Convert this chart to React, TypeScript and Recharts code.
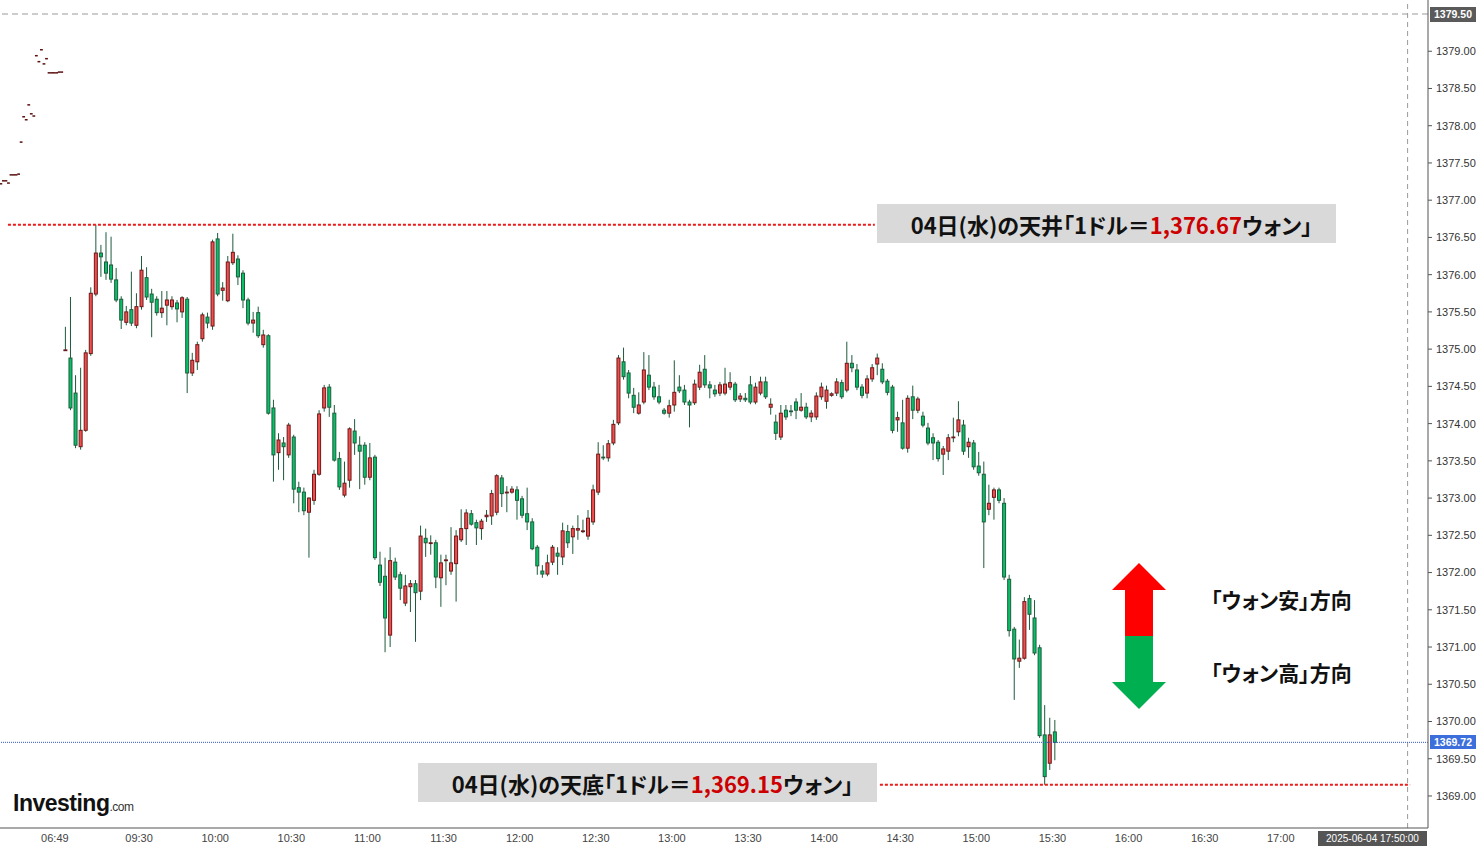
import React from 'react';
import { ComposedChart, Bar, Scatter, XAxis, YAxis, ReferenceLine } from 'recharts';

// 2分足（09:00〜15:32）
const opens = [
  1374.99, 1374.88, 1374.41, 1373.69, 1373.91, 1374.94, 1375.74, 1376.29, 1376.17, 1376.13,
  1375.93, 1375.67, 1375.36, 1375.53, 1375.32, 1375.57, 1375.96, 1375.74, 1375.67, 1375.49,
  1375.59, 1375.57, 1375.62, 1375.50, 1375.67, 1374.68, 1374.83, 1375.14, 1375.43, 1375.31,
  1376.48, 1375.79, 1375.65, 1376.16, 1376.21, 1376.02, 1375.66, 1375.35, 1375.49, 1375.06,
  1375.18, 1374.21, 1373.61, 1373.74, 1373.58, 1373.82, 1373.14, 1373.08, 1372.81, 1372.97,
  1373.32, 1374.21, 1374.49, 1374.14, 1373.53, 1373.04, 1373.24, 1373.90, 1373.71, 1373.71,
  1373.28, 1373.55, 1372.10, 1371.95, 1371.16, 1372.14, 1371.97, 1371.59, 1371.81, 1371.85,
  1371.75, 1372.46, 1372.40, 1372.40, 1371.93, 1372.16, 1372.02, 1372.12, 1372.44, 1372.59,
  1372.79, 1372.67, 1372.59, 1372.75, 1372.76, 1372.81, 1373.27, 1373.08, 1373.08, 1373.11,
  1372.99, 1372.79, 1372.68, 1372.34, 1372.02, 1371.98, 1372.14, 1372.26, 1372.21, 1372.55,
  1372.48, 1372.57, 1372.56, 1372.49, 1372.68, 1373.08, 1373.55, 1373.54, 1373.74, 1374.01,
  1374.83, 1374.68, 1374.38, 1374.14, 1374.29, 1374.65, 1374.49, 1374.36, 1374.18, 1374.14,
  1374.25, 1374.49, 1374.45, 1374.29, 1374.28, 1374.49, 1374.73, 1374.52, 1374.45, 1374.41,
  1374.41, 1374.49, 1374.53, 1374.33, 1374.34, 1374.52, 1374.29, 1374.41, 1374.56, 1374.22,
  1374.02, 1373.82, 1374.18, 1374.17, 1374.29, 1374.18, 1374.22, 1374.09, 1374.09, 1374.36,
  1374.30, 1374.38, 1374.41, 1374.55, 1374.45, 1374.81, 1374.72, 1374.49, 1374.41, 1374.60,
  1374.80, 1374.73, 1374.57, 1374.49, 1374.05, 1374.01, 1373.67, 1374.36, 1374.18, 1374.10,
  1373.94, 1373.81, 1373.75, 1373.59, 1373.63, 1373.81, 1373.89, 1373.98, 1373.69, 1373.74,
  1373.43, 1373.32, 1372.85, 1373.01, 1373.11, 1372.93, 1371.91, 1371.24, 1370.81, 1370.85,
  1371.65, 1371.39, 1370.99, 1369.82, 1369.44, 1369.86,
];

const highs = [
  1375.30, 1375.70, 1374.65, 1374.75, 1374.99, 1375.83, 1376.67, 1376.40, 1376.57, 1376.51,
  1376.09, 1375.71, 1375.58, 1376.04, 1375.75, 1376.25, 1376.10, 1375.81, 1375.71, 1375.78,
  1375.78, 1375.71, 1375.66, 1375.71, 1375.70, 1374.95, 1375.10, 1375.49, 1375.49, 1376.47,
  1376.56, 1375.90, 1376.25, 1376.55, 1376.26, 1376.06, 1375.69, 1375.50, 1375.57, 1375.26,
  1375.20, 1374.32, 1373.87, 1373.82, 1374.01, 1373.85, 1373.22, 1373.14, 1373.01, 1373.38,
  1374.18, 1374.52, 1374.53, 1374.25, 1373.62, 1373.49, 1373.95, 1374.06, 1373.83, 1373.75,
  1373.74, 1373.58, 1372.28, 1372.20, 1372.34, 1372.20, 1372.01, 1371.97, 1371.90, 1371.90,
  1372.63, 1372.59, 1372.50, 1372.44, 1372.24, 1372.24, 1372.61, 1372.57, 1372.85, 1372.85,
  1372.84, 1372.71, 1372.72, 1372.84, 1373.11, 1373.32, 1373.31, 1373.16, 1373.16, 1373.16,
  1373.03, 1373.14, 1372.73, 1372.37, 1372.10, 1372.24, 1372.37, 1372.34, 1372.67, 1372.64,
  1372.63, 1372.77, 1372.71, 1372.84, 1373.18, 1373.75, 1373.71, 1373.78, 1374.05, 1374.92,
  1375.02, 1374.72, 1374.48, 1374.42, 1374.96, 1374.92, 1374.56, 1374.52, 1374.21, 1374.32,
  1374.85, 1374.65, 1374.52, 1374.32, 1374.59, 1374.79, 1374.92, 1374.57, 1374.52, 1374.56,
  1374.75, 1374.69, 1374.56, 1374.41, 1374.41, 1374.64, 1374.55, 1374.63, 1374.63, 1374.34,
  1374.12, 1374.25, 1374.25, 1374.25, 1374.34, 1374.41, 1374.28, 1374.18, 1374.42, 1374.55,
  1374.51, 1374.42, 1374.61, 1374.59, 1375.10, 1374.92, 1374.80, 1374.53, 1374.65, 1374.80,
  1374.94, 1374.81, 1374.60, 1374.52, 1374.16, 1374.32, 1374.38, 1374.51, 1374.36, 1374.16,
  1374.01, 1373.87, 1373.78, 1373.70, 1373.86, 1374.08, 1374.30, 1374.05, 1373.81, 1373.78,
  1373.62, 1373.49, 1373.18, 1373.14, 1373.14, 1373.00, 1371.97, 1371.27, 1371.10, 1371.67,
  1371.70, 1371.63, 1371.03, 1370.22, 1370.05, 1370.02,
];

const lows = [
  1374.99, 1374.18, 1373.67, 1373.65, 1373.89, 1374.91, 1375.71, 1375.97, 1375.93, 1375.89,
  1375.63, 1375.27, 1375.32, 1375.31, 1375.28, 1375.53, 1375.66, 1375.16, 1375.45, 1375.42,
  1375.32, 1375.53, 1375.36, 1375.42, 1374.41, 1374.64, 1374.72, 1375.10, 1375.28, 1375.26,
  1375.71, 1375.65, 1375.63, 1376.13, 1375.86, 1375.55, 1375.32, 1375.22, 1375.15, 1375.02,
  1374.12, 1373.22, 1373.38, 1373.24, 1373.54, 1372.93, 1372.81, 1372.77, 1372.20, 1372.91,
  1373.30, 1374.16, 1374.09, 1373.49, 1373.11, 1373.01, 1373.14, 1373.58, 1373.12, 1373.18,
  1373.24, 1372.17, 1371.82, 1370.93, 1371.00, 1371.90, 1371.63, 1371.55, 1371.47, 1371.07,
  1371.63, 1372.21, 1372.24, 1371.79, 1371.54, 1371.83, 1371.97, 1371.61, 1372.41, 1372.37,
  1372.63, 1372.37, 1372.44, 1372.68, 1372.64, 1372.77, 1372.88, 1372.81, 1373.06, 1372.71,
  1372.73, 1372.57, 1372.30, 1371.97, 1371.93, 1371.95, 1372.10, 1371.97, 1372.10, 1372.33,
  1372.25, 1372.44, 1372.53, 1372.44, 1372.64, 1373.04, 1373.51, 1373.49, 1373.71, 1373.98,
  1374.59, 1374.34, 1374.14, 1374.12, 1374.26, 1374.45, 1374.32, 1374.26, 1374.12, 1374.08,
  1374.16, 1374.41, 1374.25, 1373.95, 1374.25, 1374.45, 1374.48, 1374.34, 1374.36, 1374.37,
  1374.38, 1374.45, 1374.29, 1374.29, 1374.29, 1374.26, 1374.26, 1374.38, 1374.33, 1374.12,
  1373.78, 1373.78, 1374.05, 1374.10, 1374.06, 1374.16, 1374.06, 1374.02, 1374.05, 1374.32,
  1374.20, 1374.36, 1374.37, 1374.33, 1374.42, 1374.69, 1374.45, 1374.34, 1374.34, 1374.56,
  1374.65, 1374.53, 1374.38, 1373.87, 1373.89, 1373.65, 1373.61, 1374.06, 1374.14, 1373.95,
  1373.71, 1373.51, 1373.49, 1373.31, 1373.51, 1373.75, 1373.83, 1373.58, 1373.54, 1373.38,
  1373.30, 1372.06, 1372.77, 1372.71, 1372.93, 1371.90, 1371.14, 1370.29, 1370.72, 1370.83,
  1371.23, 1370.89, 1369.78, 1369.15, 1369.35, 1369.48,
];

const closes = [
  1374.99, 1374.21, 1373.71, 1373.91, 1374.95, 1375.75, 1376.29, 1376.24, 1376.02, 1375.94,
  1375.66, 1375.39, 1375.50, 1375.35, 1375.57, 1376.06, 1375.70, 1375.63, 1375.49, 1375.55,
  1375.66, 1375.66, 1375.54, 1375.69, 1374.68, 1374.85, 1375.06, 1375.46, 1375.35, 1376.44,
  1375.74, 1375.82, 1376.17, 1376.30, 1375.97, 1375.66, 1375.35, 1375.39, 1375.18, 1375.19,
  1374.14, 1373.58, 1373.78, 1373.69, 1373.98, 1373.12, 1373.08, 1372.83, 1373.00, 1373.32,
  1374.13, 1374.48, 1374.22, 1373.51, 1373.15, 1373.20, 1373.93, 1373.74, 1373.63, 1373.28,
  1373.54, 1372.20, 1371.87, 1371.39, 1372.16, 1371.94, 1371.79, 1371.82, 1371.85, 1371.73,
  1372.49, 1372.40, 1372.40, 1371.94, 1372.13, 1372.17, 1372.13, 1372.49, 1372.59, 1372.80,
  1372.65, 1372.60, 1372.69, 1372.77, 1373.06, 1373.30, 1373.06, 1373.08, 1373.12, 1372.97,
  1372.77, 1372.68, 1372.32, 1372.09, 1371.98, 1372.13, 1372.34, 1372.22, 1372.56, 1372.40,
  1372.59, 1372.59, 1372.56, 1372.73, 1373.11, 1373.59, 1373.54, 1373.73, 1373.99, 1374.88,
  1374.63, 1374.41, 1374.22, 1374.25, 1374.72, 1374.49, 1374.36, 1374.29, 1374.14, 1374.24,
  1374.42, 1374.44, 1374.29, 1374.25, 1374.53, 1374.69, 1374.52, 1374.48, 1374.40, 1374.52,
  1374.53, 1374.55, 1374.32, 1374.37, 1374.32, 1374.29, 1374.49, 1374.56, 1374.36, 1374.26,
  1373.87, 1374.14, 1374.09, 1374.16, 1374.18, 1374.22, 1374.09, 1374.14, 1374.37, 1374.49,
  1374.45, 1374.40, 1374.56, 1374.36, 1374.81, 1374.75, 1374.49, 1374.38, 1374.60, 1374.75,
  1374.88, 1374.56, 1374.42, 1373.91, 1374.08, 1373.67, 1374.34, 1374.18, 1374.33, 1373.98,
  1373.74, 1373.74, 1373.53, 1373.66, 1373.81, 1373.82, 1374.05, 1373.63, 1373.75, 1373.42,
  1373.34, 1372.68, 1372.93, 1373.11, 1372.97, 1371.94, 1371.22, 1370.84, 1370.85, 1371.61,
  1371.44, 1370.92, 1369.81, 1369.26, 1369.82, 1369.72,
];

// 早朝の約定（1分足、値幅なし）
const preCloses = [
  1377.22, 1377.26, 1377.26, 1377.23, 1377.34, 1377.34, 1377.34, 1377.35, 1377.78, 1378.12,
  1378.08, 1378.28, 1378.16, 1378.13, 1378.94, 1378.86, 1379.02, 1378.83, 1378.90, 1378.71,
  1378.71, 1378.71, 1378.71, 1378.72, 1378.72,
];

const timeTicks = [-3.2, 30, 60, 90, 120, 150, 180, 210, 240, 270, 300, 330, 360, 390, 420, 450, 480];
const timeLabels = ['06:49', '09:30', '10:00', '10:30', '11:00', '11:30', '12:00', '12:30', '13:00', '13:30', '14:00', '14:30', '15:00', '15:30', '16:00', '16:30', '17:00'];
const priceTicks = [
  1369, 1369.5, 1370, 1370.5, 1371, 1371.5, 1372, 1372.5, 1373, 1373.5, 1374,
  1374.5, 1375, 1375.5, 1376, 1376.5, 1377, 1377.5, 1378, 1378.5, 1379,
];

const dayHigh = 1376.67;
const dayLow = 1369.15;
const lastPrice = 1369.72;
const topPrice = 1379.5;
const nowSlot = 530; // 17:50

const candles = opens.map((o, i) => ({
  t: 2 * i + 1,
  open: o,
  high: highs[i],
  low: lows[i],
  close: closes[i],
}));

const preTrades = preCloses.map((c, i) => ({ t: i - 24.5, close: c }));

const UP_FILL = '#f34e4e';
const UP_EDGE = '#6b1818';
const DN_FILL = '#07c168';
const DN_EDGE = '#1e5b3d';
const WICK = '#1e5b3d';

const CandleShape = (props: any) => {
  const { x, y, width, height, payload } = props;
  const { open, close, high, low } = payload;
  const cx = x + width / 2;
  const ppu = high > low ? height / (high - low) : 0;
  const top = y + (high - Math.max(open, close)) * ppu;
  const bot = y + (high - Math.min(open, close)) * ppu;
  const up = close >= open;
  return (
    <g>
      <line x1={cx} x2={cx} y1={y} y2={y + height} stroke={WICK} strokeWidth={1} />
      <rect
        x={cx - 1.5}
        y={top}
        width={3}
        height={Math.max(bot - top, 0.8)}
        fill={up ? UP_FILL : DN_FILL}
        stroke={up ? UP_EDGE : DN_EDGE}
        strokeWidth={1}
      />
    </g>
  );
};

const DashShape = (props: any) => {
  const { cx, cy } = props;
  return <rect x={cx - 1.4} y={cy - 0.75} width={2.8} height={1.5} fill="#5c1010" />;
};

const labelFor = (v: number) => {
  const i = timeTicks.indexOf(v);
  return i >= 0 ? timeLabels[i] : '';
};

const jp = '"Noto Sans CJK JP", "Noto Sans", sans-serif';

const NoteBox = ({ left, top, kind, value }: { left: number; top: number; kind: string; value: string }) => (
  <div
    style={{
      position: 'absolute',
      left,
      top,
      width: 459,
      height: 39,
      background: '#d9d9d9',
      display: 'flex',
      alignItems: 'center',
      justifyContent: 'center',
      fontFamily: jp,
      fontWeight: 700,
      fontSize: 22,
      fontFeatureSettings: '"palt"',
      color: '#111',
      whiteSpace: 'nowrap',
    }}
  >
    <span style={{ marginLeft: 10 }}>
      04日(水)の{kind}「1ドル＝<span style={{ color: '#cc0000' }}>{value}</span>ウォン」
    </span>
  </div>
);

const dirStyle: React.CSSProperties = {
  position: 'absolute',
  left: 1211,
  fontFamily: jp,
  fontWeight: 700,
  fontSize: 21,
  fontFeatureSettings: '"palt"',
  color: '#111',
  whiteSpace: 'nowrap',
  lineHeight: '26px',
};

export default function App() {
  return (
    <div style={{ position: 'absolute', left: 0, top: 0, width: 1476, height: 846, background: '#fff', fontFamily: '"Liberation Sans", Arial, sans-serif' }}>
      <ComposedChart width={1476} height={846} data={candles} margin={{ top: 0, right: 0, bottom: 0, left: 0 }}>
        <XAxis
          dataKey="t"
          type="number"
          domain={[-24.83, 538.04]}
          allowDataOverflow
          ticks={timeTicks}
          interval={0}
          tickFormatter={labelFor}
          height={18}
          tickLine={false}
          tickSize={4}
          tickMargin={2}
          axisLine={{ stroke: '#555' }}
          tick={{ fontSize: 11, fill: '#444' }}
        />
        <YAxis
          dataKey="close"
          orientation="right"
          type="number"
          domain={[1368.57, 1379.688]}
          allowDataOverflow
          ticks={priceTicks}
          interval={0}
          width={48}
          tickFormatter={(v: number) => v.toFixed(2)}
          tickSize={4}
          tickMargin={4}
          axisLine={{ stroke: '#555' }}
          tickLine={{ stroke: '#555' }}
          tick={{ fontSize: 11, fill: '#333' }}
        />
        <ReferenceLine y={topPrice} stroke="#9a9a9a" strokeDasharray="6 4" />
        <ReferenceLine x={nowSlot} stroke="#9a9a9a" strokeDasharray="5 4" />
        <ReferenceLine y={lastPrice} stroke="#3355cc" strokeDasharray="1 1" />
        <ReferenceLine
          segment={[{ x: -21.7, y: dayHigh }, { x: 320, y: dayHigh }]}
          stroke="#ee1c1c"
          strokeWidth={2}
          strokeDasharray="3 2"
        />
        <ReferenceLine
          segment={[{ x: 322, y: dayLow }, { x: 531, y: dayLow }]}
          stroke="#ee1c1c"
          strokeWidth={2}
          strokeDasharray="3 2"
        />
        <Bar
          dataKey={(d: any) => [d.low, d.high]}
          shape={(p: any) => <CandleShape {...p} />}
          barSize={5}
          isAnimationActive={false}
        />
        <Scatter data={preTrades} dataKey="close" shape={(p: any) => <DashShape {...p} />} isAnimationActive={false} />
      </ComposedChart>

      <div style={{ position: 'absolute', left: 1430, top: 7, width: 46, height: 15, background: '#5a5a5a', color: '#fff', fontSize: 10.5, fontWeight: 700, lineHeight: '15px', textAlign: 'center' }}>
        1379.50
      </div>
      <div style={{ position: 'absolute', left: 1430, top: 735, width: 46, height: 14, background: '#3d6fdc', color: '#fff', fontSize: 10.5, fontWeight: 700, lineHeight: '14px', textAlign: 'center' }}>
        1369.72
      </div>
      <div style={{ position: 'absolute', left: 1318, top: 831, width: 109, height: 15, background: '#555', color: '#fff', fontSize: 10, lineHeight: '15px', textAlign: 'center' }}>
        2025-06-04 17:50:00
      </div>

      <NoteBox left={877} top={204} kind="天井" value="1,376.67" />
      <NoteBox left={418} top={763} kind="天底" value="1,369.15" />

      <svg width={1476} height={846} style={{ position: 'absolute', left: 0, top: 0, pointerEvents: 'none' }}>
        <polygon points="1139,563 1166,590 1153,590 1153,636 1125,636 1125,590 1112,590" fill="#ff0000" />
        <polygon points="1125,636 1153,636 1153,682 1166,682 1139,709 1112,682 1125,682" fill="#00b050" />
      </svg>
      <div style={{ ...dirStyle, top: 586 }}>「ウォン安」方向</div>
      <div style={{ ...dirStyle, top: 659 }}>「ウォン高」方向</div>

      <div style={{ position: 'absolute', left: 13, top: 791, whiteSpace: 'nowrap', lineHeight: '24px' }}>
        <span style={{ fontSize: 23, fontWeight: 700, letterSpacing: -0.5, color: '#111' }}>Investing</span>
        <span style={{ fontSize: 12, letterSpacing: -0.5, color: '#333' }}>.com</span>
      </div>
    </div>
  );
}
